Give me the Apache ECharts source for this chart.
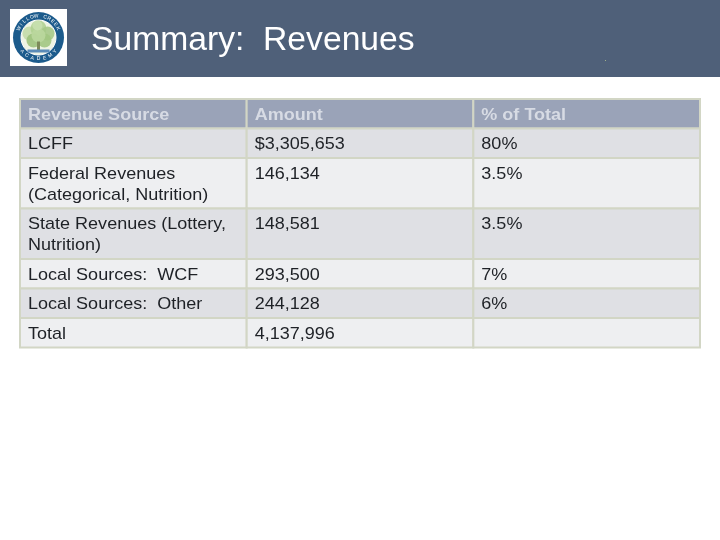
<!DOCTYPE html>
<html>
<head>
<meta charset="utf-8">
<script src="https://cdn.jsdelivr.net/npm/echarts@6/dist/echarts.min.js"></script>
<style>
html,body{margin:0;padding:0;background:#fff;}
#main{width:720px;height:540px;}
</style>
</head>
<body>
<div id="main"></div>
<script>
// ---- Data ----
const title = 'Summary:  Revenues';
const headers = ['Revenue Source', 'Amount', '% of Total'];
const sources = ['LCFF', 'Federal Revenues\n(Categorical, Nutrition)', 'State Revenues (Lottery,\nNutrition)', 'Local Sources:  WCF', 'Local Sources:  Other', 'Total'];
const amounts = ['$3,305,653', '146,134', '148,581', '293,500', '244,128', '4,137,996'];
const percents = ['80%', '3.5%', '3.5%', '7%', '6%', ''];

// ---- Layout / style ----
const ROW_BASE = 29.5, LINE_EXTRA = 21;
const FONT = '"Liberation Sans", Arial, sans-serif';
const rows = [headers].concat(sources.map((s, i) => [s, amounts[i], percents[i]]));
const bounds = [];
let acc = 0;
rows.forEach(r => {
  const lines = Math.max.apply(null, r.map(t => t.split('\n').length));
  const h = ROW_BASE + (lines - 1) * LINE_EXTRA;
  bounds.push([acc, acc + h]);
  acc += h;
});
const total = acc;
const cells = [];
rows.forEach((r, ri) => r.forEach((t, ci) => {
  cells.push({ value: [ci, bounds[ri][0], bounds[ri][1], ri], text: t });
}));

function fillFor(ri) {
  if (ri === 0) return '#9aa3b8';
  return ri % 2 === 1 ? '#dfe0e4' : '#eeeff1';
}

// ---- Logo pieces ----
const LX = 38.5, LY = 37.5;
const logo = [];
logo.push({ type: 'rect', shape: { x: 10, y: 9, width: 57, height: 57 }, style: { fill: '#ffffff' } });
logo.push({ type: 'circle', shape: { cx: LX, cy: LY, r: 25.5 }, style: { fill: '#1c5b8c' } });
logo.push({ type: 'circle', shape: { cx: LX, cy: LY, r: 17.5 }, style: { fill: '#eef4e4', stroke: '#ffffff', lineWidth: 1 } });
const blobs = [[-9, -4, 7, '#c3dba8'], [0, -9, 8, '#b0d092'], [9, -4, 7, '#a6c988'], [-5, 3, 7, '#9cc27c'], [6, 3, 7, '#a2c682'], [0, -2, 7, '#bad79d'], [-1, -12, 5, '#c8e0af']];
blobs.forEach(b => logo.push({ type: 'circle', shape: { cx: LX + b[0], cy: LY + b[1], r: b[2] }, style: { fill: b[3], opacity: 0.9 } }));
logo.push({ type: 'rect', shape: { x: LX - 1.5, y: LY + 4, width: 3, height: 9 }, style: { fill: '#7d8a5a' } });
logo.push({ type: 'rect', shape: { x: LX - 11, y: LY + 12, width: 22, height: 3 }, style: { fill: '#5a8bb8' } });
function arcText(str, a0, a1, top) {
  const n = str.length;
  for (let i = 0; i < n; i++) {
    if (str[i] === ' ') continue;
    const a = a0 + (a1 - a0) * (n === 1 ? 0.5 : i / (n - 1));
    const rad = a * Math.PI / 180;
    const rot = top ? -(a + 90) * Math.PI / 180 : -(a - 90) * Math.PI / 180;
    logo.push({
      type: 'text', x: LX + 21.5 * Math.cos(rad), y: LY + 21.5 * Math.sin(rad), rotation: rot,
      style: { text: str[i], fill: '#ffffff', font: '5px ' + FONT, align: 'center', verticalAlign: 'middle' }
    });
  }
}
arcText('WILLOW CREEK', -155, -25, true);
arcText('ACADEMY', 140, 40, false);

const chart = echarts.init(document.getElementById('main'), null, { renderer: 'canvas' });
chart.setOption({
  animation: false,
  backgroundColor: '#ffffff',
  grid: { left: 20, top: 99, width: 680, height: total },
  xAxis: { type: 'value', min: 0, max: 3, show: false },
  yAxis: { type: 'value', min: 0, max: total, inverse: true, show: false },
  graphic: [
    { type: 'rect', z: -1, shape: { x: 0, y: 0, width: 720, height: 77 }, style: { fill: '#4f6079' } },
    { type: 'text', x: 91, y: 40.5, scaleX: 1.02, style: { text: title, fill: '#ffffff', font: '33px ' + FONT, verticalAlign: 'middle' } },
    { type: 'rect', shape: { x: 605, y: 60, width: 1, height: 1 }, style: { fill: '#9fb08a' } },
    { type: 'group', children: logo }
  ],
  series: [{
    type: 'custom',
    coordinateSystem: 'cartesian2d',
    encode: { x: 0, y: [1, 2] },
    data: cells,
    renderItem: function (params, api) {
      const c = api.value(0), y0 = api.value(1), y1 = api.value(2), ri = api.value(3);
      const p0 = api.coord([c, y0]);
      const p1 = api.coord([c + 1, y1]);
      const item = cells[params.dataIndex];
      const header = ri === 0;
      return {
        type: 'group',
        children: [
          { type: 'rect', shape: { x: p0[0], y: p0[1], width: p1[0] - p0[0], height: p1[1] - p0[1] },
            style: { fill: fillFor(ri), stroke: '#d2d6c5', lineWidth: 2 } },
          { type: 'text', x: p0[0] + 8, y: p0[1] + 5.5, scaleX: 1.06,
            style: { text: item.text, font: (header ? 'bold ' : '') + '17px ' + FONT, lineHeight: 21,
              fill: header ? '#d7dbe4' : '#1e2126', verticalAlign: 'top', align: 'left' } }
        ]
      };
    }
  }]
});
</script>
</body>
</html>
